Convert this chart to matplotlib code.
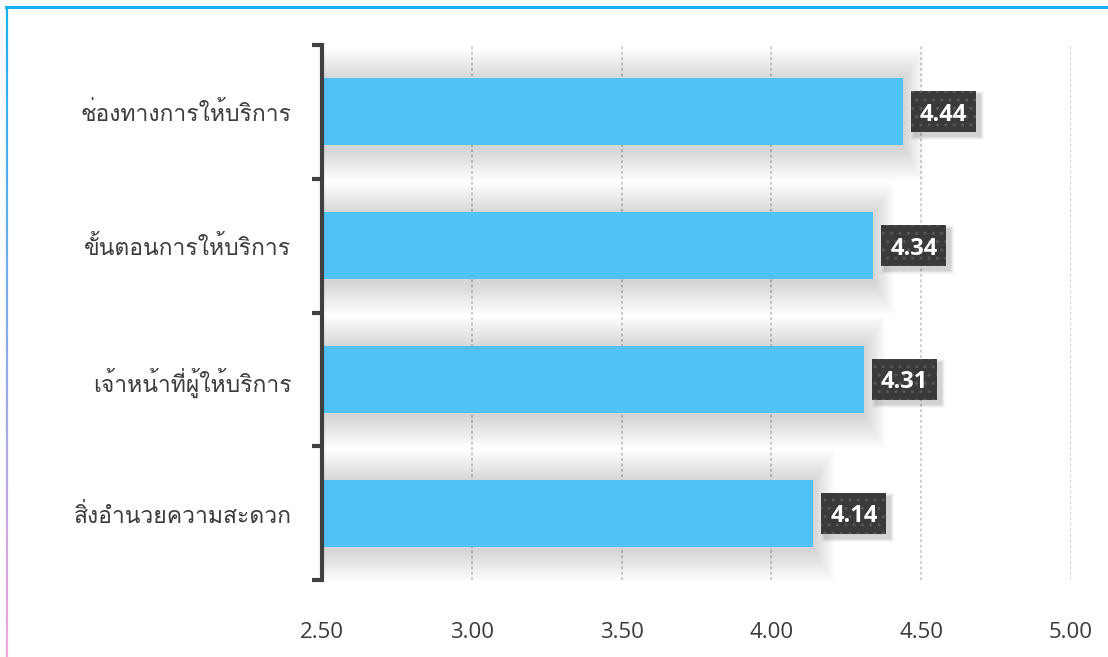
import matplotlib
matplotlib.use("Agg")
import matplotlib.pyplot as plt
from matplotlib.lines import Line2D
from matplotlib.patches import Rectangle
import numpy as np

categories = ["ช่องทางการให้บริการ", "ขั้นตอนการให้บริการ", "เจ้าหน้าที่ผู้ให้บริการ", "สิ่งอำนวยความสะดวก"]
values = [4.44, 4.34, 4.31, 4.14]
xticks = [2.50, 3.00, 3.50, 4.00, 4.50, 5.00]
xtick_labels = ["2.50", "3.00", "3.50", "4.00", "4.50", "5.00"]

thai_family = ["Loma", "FreeSerif", "DejaVu Sans"]
num_family = ["Open Sans", "DejaVu Sans"]

W, H = 1108, 657
fig = plt.figure(figsize=(W / 100, H / 100), dpi=100)
fig.patch.set_facecolor("white")

ax = fig.add_axes([322 / W, 1 - 580 / H, (1071 - 322) / W, (580 - 45) / H])
ax.set_xlim(2.5, 5.0)
ax.set_ylim(3.5, -0.5)

ypos = np.arange(len(categories))
bar_h = 0.5
base = 2.5

nlay = 14
for k in range(nlay):
    ext_y = 0.24 * (nlay - k) / nlay
    ext_x = 0.07 * (nlay - k) / nlay
    ax.barh(ypos + 0.02, [v - base + ext_x for v in values], left=base,
            height=bar_h + 2 * ext_y, color="#000000", alpha=0.011, zorder=1,
            linewidth=0)

ax.barh(ypos, [v - base for v in values], left=base, height=bar_h,
        color="#50c2f8", zorder=3, linewidth=0)

for xv in xticks[1:]:
    ax.axvline(xv, color="#cacaca", lw=1.3, ls=(0, (1.5, 1.5)), zorder=0.5)

for s in ["top", "right", "bottom"]:
    ax.spines[s].set_visible(False)
ax.spines["left"].set_color("#404040")
ax.spines["left"].set_linewidth(3)
ax.spines["left"].set_zorder(5)

ax.set_xticks(xticks)
ax.set_xticklabels(xtick_labels, family=num_family, fontsize=16, color="#3a3a3a")
ax.tick_params(axis="x", length=0, pad=30)

ax.set_yticks([-0.5, 0.5, 1.5, 2.5, 3.5])
ax.set_yticklabels([])
ax.tick_params(axis="y", length=7, width=3, color="#404040", direction="out")
ax.set_yticks(ypos, minor=True)
ax.set_yticklabels(categories, minor=True, family=thai_family, fontsize=16.5,
                   color="#3c3c3c")
ax.tick_params(axis="y", which="minor", length=0, pad=22)
for lbl in ax.get_yticklabels(minor=True):
    lbl.set_y(lbl.get_position()[1])

# value labels: box positioned from the data point in pixel offsets
BW, BH, GAP = 65, 41, 8
for y, v in zip(ypos, values):
    px, py = ax.transData.transform((v, y))
    x0 = px + GAP
    y0 = py - BH / 2
    for g, a in [(8, 0.03), (6, 0.04), (4, 0.05), (2, 0.06)]:
        fig.add_artist(Rectangle((x0 + 4 - g / 2, y0 - 4 - g / 2), BW + g, BH + g,
                                 transform=None, fc=(0, 0, 0, a), ec="none",
                                 zorder=5))
    fig.add_artist(Rectangle((x0, y0), BW, BH, transform=None, fc="#3a3a3a",
                             ec="#575757", lw=0, hatch="..", zorder=6))
    fig.text(x0 + BW / 2, py, f"{v:.2f}", transform=None, ha="center",
             va="center_baseline", fontsize=17, fontweight="bold",
             family=num_family, color="white", zorder=7)

# frame border
fig.add_artist(Line2D([6 / W, 1.0], [1 - 7 / H, 1 - 7 / H], color="#1ab0f4",
                      lw=2.2, transform=fig.transFigure))
nseg = 60
top_c = np.array([0x1a, 0xb0, 0xf4]) / 255
bot_c = np.array([0xf7, 0xa6, 0xda]) / 255
for i in range(nseg):
    t0 = i / nseg
    t1 = (i + 1) / nseg
    y0 = 1 - 7 / H - t0 * (1 - 7 / H)
    y1 = 1 - 7 / H - t1 * (1 - 7 / H)
    c = top_c * (1 - t0) + bot_c * t0
    fig.add_artist(Line2D([7 / W, 7 / W], [y0, y1], color=c, lw=1.6,
                          transform=fig.transFigure, solid_capstyle="butt"))

fig.savefig("out.png", dpi=100, facecolor="white")
